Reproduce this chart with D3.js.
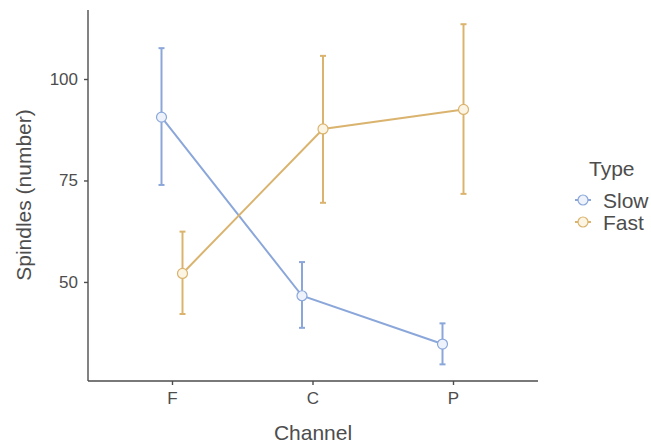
<!DOCTYPE html>
<html>
<head>
<meta charset="utf-8">
<script src="https://cdn.jsdelivr.net/npm/d3@7"></script>
<style>
  body { margin: 0; background: #fff; }
  svg { display: block; font-family: "Liberation Sans", Arial, sans-serif; }
</style>
</head>
<body>
<svg width="651" height="445"></svg>
<script>
var channels = ["F", "C", "P"];
var types = ["Slow", "Fast"];
var slowMean = [90.6, 46.6, 34.7];
var slowLow = [73.9, 38.7, 29.7];
var slowHigh = [107.6, 54.9, 39.8];
var fastMean = [52.1, 87.7, 92.5];
var fastLow = [42.1, 69.5, 71.7];
var fastHigh = [62.4, 105.7, 113.5];
var yTicks = [50, 75, 100];

var colors = { Slow: "#8ba7da", Fast: "#dab46f" };
var fills = { Slow: "#eef3fb", Fast: "#fcf5e4" };

var series = [
  { type: "Slow", mean: slowMean, low: slowLow, high: slowHigh },
  { type: "Fast", mean: fastMean, low: fastLow, high: fastHigh }
].map(function (s) {
  return {
    type: s.type,
    points: channels.map(function (c, i) {
      return { channel: c, mean: s.mean[i], low: s.low[i], high: s.high[i] };
    })
  };
});

var svg = d3.select("svg");
var plotL = 88, plotR = 538, plotT = 10, plotB = 381;

var x = d3.scalePoint().domain(channels).range([172, 453]);
var y = d3.scaleLinear().domain([25.6, 117]).range([plotB, plotT]);
var dodge = d3.scalePoint().domain(types).range([-10.5, 10.5]);

var axisColor = "#4d4d4d";
var textColor = "#4d4d4d";

// axes
var yAxis = svg.append("g")
  .attr("transform", "translate(" + plotL + ",0)")
  .call(d3.axisLeft(y).tickValues(yTicks).tickSize(4).tickPadding(6));
yAxis.select(".domain").attr("d", "M0," + plotT + "V" + plotB);

var xAxis = svg.append("g")
  .attr("transform", "translate(0," + plotB + ")")
  .call(d3.axisBottom(x).tickSize(4).tickPadding(7));
xAxis.select(".domain").attr("d", "M" + plotL + ",0H" + plotR);

svg.selectAll(".domain").attr("stroke", axisColor).attr("stroke-width", 1.4);
svg.selectAll(".tick line").attr("stroke", axisColor).attr("stroke-width", 1.4);
svg.selectAll(".tick text").attr("fill", textColor)
  .style("font-size", "17px")
  .style("font-family", "'Liberation Sans', Arial, sans-serif");

svg.append("text")
  .attr("x", 313).attr("y", 440)
  .attr("text-anchor", "middle")
  .attr("fill", textColor).style("font-size", "21px")
  .text("Channel");

svg.append("text")
  .attr("transform", "translate(31,195) rotate(-90)")
  .attr("text-anchor", "middle")
  .attr("fill", textColor).style("font-size", "21px")
  .text("Spindles (number)");

// error bars, lines, points
var px = function (d, s) { return x(d.channel) + dodge(s.type); };

var g = svg.selectAll(".series")
  .data(series)
  .enter().append("g")
  .attr("class", "series");

g.each(function (s) {
  var sel = d3.select(this);
  var col = colors[s.type];
  var bars = sel.selectAll(".err").data(s.points).enter().append("g");
  bars.append("line")
    .attr("x1", function (d) { return px(d, s); })
    .attr("x2", function (d) { return px(d, s); })
    .attr("y1", function (d) { return y(d.low); })
    .attr("y2", function (d) { return y(d.high); })
    .attr("stroke", col).attr("stroke-width", 2);
  ["low", "high"].forEach(function (k) {
    bars.append("line")
      .attr("x1", function (d) { return px(d, s) - 3; })
      .attr("x2", function (d) { return px(d, s) + 3; })
      .attr("y1", function (d) { return y(d[k]); })
      .attr("y2", function (d) { return y(d[k]); })
      .attr("stroke", col).attr("stroke-width", 2);
  });
});

g.append("path")
  .attr("fill", "none")
  .attr("stroke", function (s) { return colors[s.type]; })
  .attr("stroke-width", 2)
  .attr("d", function (s) {
    return d3.line()
      .x(function (d) { return px(d, s); })
      .y(function (d) { return y(d.mean); })(s.points);
  });

g.each(function (s) {
  d3.select(this).selectAll("circle").data(s.points).enter().append("circle")
    .attr("cx", function (d) { return px(d, s); })
    .attr("cy", function (d) { return y(d.mean); })
    .attr("r", 5)
    .attr("fill", fills[s.type])
    .attr("stroke", colors[s.type])
    .attr("stroke-width", 1.2);
});

// legend
var legend = svg.append("g").attr("transform", "translate(574,0)");
legend.append("text")
  .attr("x", 15).attr("y", 176)
  .attr("fill", textColor).style("font-size", "21px")
  .text("Type");
var items = legend.selectAll(".item").data(types).enter().append("g")
  .attr("transform", function (d, i) { return "translate(0," + (200 + i * 22) + ")"; });
items.append("line")
  .attr("x1", 1).attr("x2", 17)
  .attr("stroke", function (d) { return colors[d]; }).attr("stroke-width", 2);
items.append("circle")
  .attr("cx", 9).attr("r", 5)
  .attr("fill", function (d) { return fills[d]; })
  .attr("stroke", function (d) { return colors[d]; }).attr("stroke-width", 1.2);
items.append("text")
  .attr("x", 29).attr("y", 7.5)
  .attr("fill", textColor).style("font-size", "21px")
  .text(function (d) { return d; });
</script>
</body>
</html>
